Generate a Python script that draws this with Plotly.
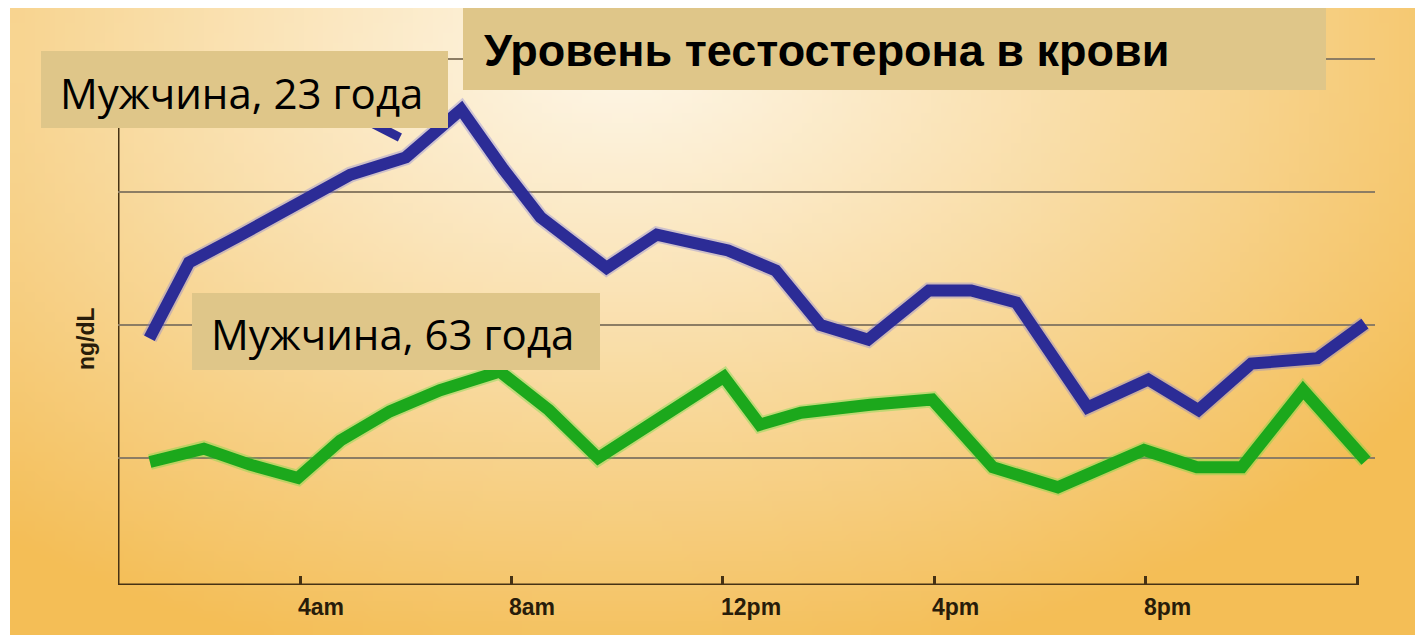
import base64, struct, zlib
import numpy as np
import plotly.graph_objects as go

# ---------------- data ----------------
hours_young = [1.15, 1.9, 2.8, 3.85, 4.95, 6.0, 7.05, 7.85, 8.55, 9.8, 10.75, 12.1,
               13.0, 13.85, 14.75, 15.9, 16.7, 17.55, 18.9, 20.05, 21.0, 22.0, 23.25, 24.15]
level_young = [190, 247, 266, 289, 313, 326, 362, 317, 281, 243, 268, 256,
               241, 200, 189, 226, 226, 217, 138, 159, 136, 171, 175, 201]

hours_old = [1.16, 2.18, 3.05, 3.96, 4.76, 5.70, 6.65, 7.78, 8.71, 9.64, 10.81, 12.02,
             12.70, 13.48, 14.79, 15.96, 17.11, 18.34, 19.97, 20.97, 21.82, 22.98, 24.17]
level_old = [97, 107, 95, 85, 113, 135, 151, 165, 136, 100, 130, 161,
             125, 134, 140, 144, 93, 78, 106, 93, 93, 151, 98]

pointer_hours = [5.3, 5.89]
pointer_level = [353, 341]

tick_hours = [4, 8, 12, 16, 20, 24]
tick_labels = ["4am", "8am", "12pm", "4pm", "8pm", ""]
grid_levels = [100, 200, 300, 400]

title_text = "Уровень тестостерона в крови"
label_young = "Мужчина, 23 года"
label_old = "Мужчина, 63 года"
y_title = "ng/dL"

# ---------------- geometry (window px, page body has 8px margin) ----------------
OFF = 8
W, H = 1423 - OFF, 635 - OFF
L, R, T, B = 118 - OFF, 1375 - OFF, 40 - OFF, 585 - OFF
XR = [0.556, 0.556 + (R - L) / 52.85]
YR = [4.5, 4.5 + (B - T) / 1.33]


def fx(px):
    return (px - OFF - L) / (R - L)


def fy(py):
    return (B - (py - OFF)) / (B - T)


# ---------------- gradient background (PNG) ----------------
def make_png(arr):
    h, w, _ = arr.shape
    raw = b"".join(b"\x00" + arr[i].tobytes() for i in range(h))

    def chunk(tag, data):
        c = struct.pack(">I", len(data)) + tag + data
        return c + struct.pack(">I", zlib.crc32(tag + data) & 0xffffffff)

    png = b"\x89PNG\r\n\x1a\n"
    png += chunk(b"IHDR", struct.pack(">IIBBBBB", w, h, 8, 2, 0, 0, 0))
    png += chunk(b"IDAT", zlib.compress(raw, 9))
    png += chunk(b"IEND", b"")
    return "data:image/png;base64," + base64.b64encode(png).decode()


gw, gh = 142, 63
xs = np.linspace(10, 1423, gw)
ys = np.linspace(8, 635, gh)
X, Y = np.meshgrid(xs, ys)
r = np.sqrt(((X - 620) / 980) ** 2 + ((Y - 50) / 640) ** 2)
t = np.clip(r, 0, 1) ** 1.1
c0 = np.array([254, 247, 232])
c1 = np.array([244, 190, 86])
img = (c0[None, None, :] * (1 - t[..., None]) + c1[None, None, :] * t[..., None]).astype(np.uint8)
bg_uri = make_png(img)

# ---------------- figure ----------------
fig = go.Figure()

blue = "rgb(44,44,150)"
green = "rgb(28,168,28)"

fig.add_trace(go.Scatter(x=hours_young, y=level_young, mode="lines",
                         line=dict(color="rgba(120,120,220,0.35)", width=16), hoverinfo="skip"))
fig.add_trace(go.Scatter(x=pointer_hours, y=pointer_level, mode="lines",
                         line=dict(color=blue, width=9), hoverinfo="skip"))
fig.add_trace(go.Scatter(x=hours_young, y=level_young, mode="lines",
                         line=dict(color=blue, width=12)))
fig.add_trace(go.Scatter(x=hours_old, y=level_old, mode="lines",
                         line=dict(color="rgba(90,220,60,0.35)", width=16), hoverinfo="skip"))
fig.add_trace(go.Scatter(x=hours_old, y=level_old, mode="lines",
                         line=dict(color=green, width=12)))

axis_col = "rgb(70,50,20)"
grid_col = "rgb(140,125,100)"

shapes = [
    dict(type="line", xref="x", yref="y", x0=XR[0], x1=tick_hours[-1], y0=YR[0], y1=YR[0],
         line=dict(color=axis_col, width=3), layer="below"),
    dict(type="line", xref="x", yref="y", x0=XR[0], x1=XR[0], y0=YR[0], y1=grid_levels[-1],
         line=dict(color=axis_col, width=3), layer="below"),
]
box_col = "rgb(223,198,137)"
for (x0, y0, x1, y1) in [(41, 51, 448, 128), (192, 293, 600, 370), (463, 8, 1326, 90)]:
    shapes.append(dict(type="rect", xref="paper", yref="paper",
                       x0=fx(x0), x1=fx(x1), y0=fy(y1), y1=fy(y0),
                       fillcolor=box_col, line=dict(width=0), layer="above"))

annotations = [
    dict(text=label_young, xref="paper", yref="paper", x=fx(58), y=fy(93),
         xanchor="left", yanchor="middle", showarrow=False,
         font=dict(family="Open Sans", size=42, color="black")),
    dict(text=label_old, xref="paper", yref="paper", x=fx(209), y=fy(334),
         xanchor="left", yanchor="middle", showarrow=False,
         font=dict(family="Open Sans", size=42, color="black")),
    dict(text="<b>" + title_text + "</b>", xref="paper", yref="paper", x=fx(482), y=fy(50),
         xanchor="left", yanchor="middle", showarrow=False,
         font=dict(family="Liberation Sans", size=45, color="black")),
    dict(text="<b>" + y_title + "</b>", xref="paper", yref="paper", x=fx(86), y=fy(339),
         xanchor="center", yanchor="middle", showarrow=False, textangle=-90,
         font=dict(family="Liberation Sans", size=23, color="rgb(40,28,10)")),
]
for hv, lab in zip(tick_hours, tick_labels):
    if lab:
        annotations.append(dict(text="<b>" + lab + "</b>", xref="x", yref="paper", x=hv, y=fy(607),
                                xanchor="left", yanchor="middle", xshift=-4, showarrow=False,
                                font=dict(family="Liberation Sans", size=23, color="rgb(40,28,10)")))

fig.update_layout(
    width=W, height=H,
    margin=dict(l=L, r=W - R, t=T, b=H - B, pad=0),
    paper_bgcolor="white",
    plot_bgcolor="rgba(0,0,0,0)",
    showlegend=False,
    images=[dict(source=bg_uri, xref="paper", yref="paper", x=fx(10), y=fy(8),
                 sizex=fx(1423) - fx(10), sizey=fy(8) - fy(635), sizing="stretch",
                 xanchor="left", yanchor="top", layer="below")],
    shapes=shapes,
    annotations=annotations,
    xaxis=dict(range=XR, showgrid=False, zeroline=False, showline=False,
               tickmode="array", tickvals=tick_hours, ticktext=tick_labels,
               showticklabels=False, ticks="inside", ticklen=9, tickwidth=3, tickcolor=axis_col),
    yaxis=dict(range=YR, showgrid=True, gridcolor=grid_col, gridwidth=2, zeroline=False,
               showline=False, tickmode="array", tickvals=grid_levels, showticklabels=False),
)

fig.write_html("out.html")
